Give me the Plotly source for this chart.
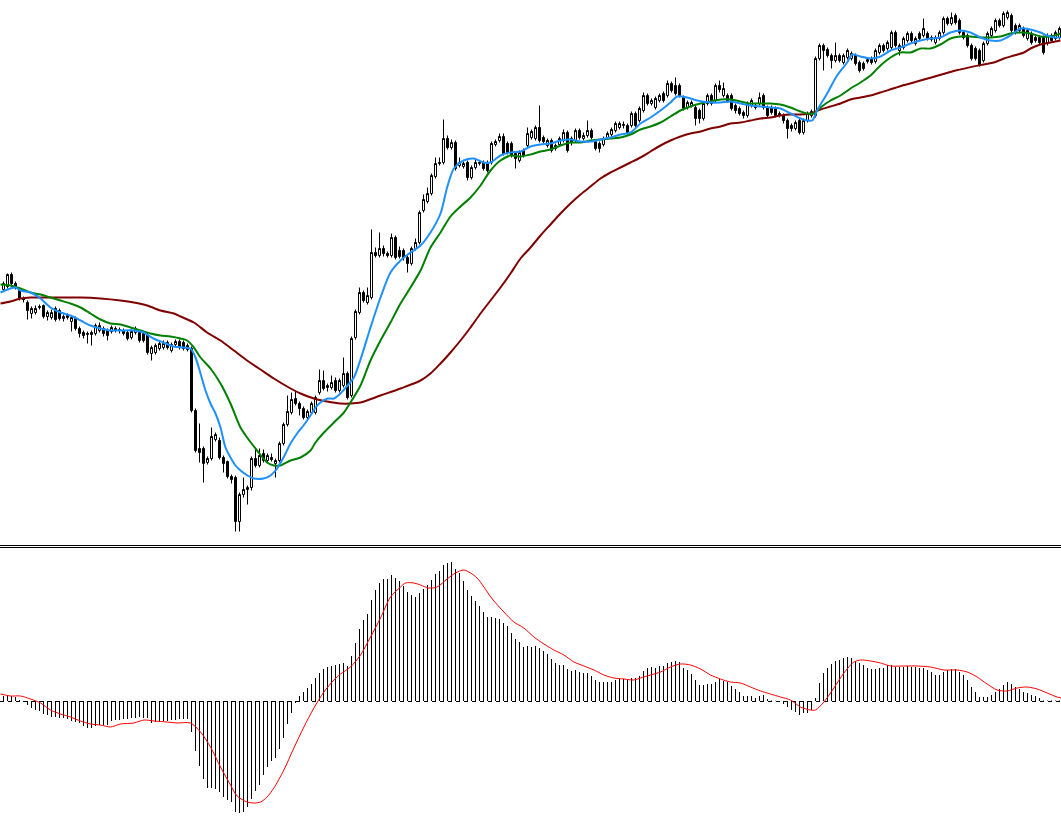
import plotly.graph_objects as go

# ---------------- price candles (bar index 0..264) ----------------
opens = [256,259,271,262,255,247,243,232,233,238, 240,229,228,237,235,227,228,224,227,217,
         213,211,211,212,215,217,215,214,217,216, 215,213,208,213,213,212,211,192,193,197,
         198,203,195,201,204,203,196,197,135,97, 97,83,87,106,105,88,84,69,68,24,
         51,56,58,87,80,92,85,88,82,85, 102,121,133,147,142,137,128,133,133,153,
         165,158,158,165,155,160,172,150,208,233, 253,243,248,293,290,297,292,290,308,295,
         295,288,282,297,303,335,344,352,369,382, 383,407,398,403,380,379,383,368,378,382,
         383,382,383,401,405,409,402,402,392,385, 395,400,408,407,418,408,400,405,397,401,
         405,413,407,405,415,407,410,415,404,402, 401,408,411,415,418,420,420,420,432,425,
         435,450,442,438,445,452,450,462,460,460, 448,438,440,438,435,427,442,450,445,460,
         450,450,450,440,437,433,430,440,440,442, 450,438,438,437,430,430,425,420,417,425,
         413,425,430,430,487,500,496,490,485,490, 483,488,487,490,483,482,484,487,484,493,
         500,497,498,513,495,498,505,512,502,512, 510,512,506,503,507,513,527,522,530,525,
         513,510,500,497,495,485,502,510,515,525, 520,528,530,520,515,517,507,512,508,508,
         508,502,510,507,508]
highs = [264,272,273,264,257,249,245,239,240,241, 241,235,236,239,237,231,232,230,229,219,
         215,214,215,222,223,219,217,220,219,218, 217,215,216,219,215,214,213,200,202,204,
         205,205,203,206,206,205,202,199,137,122, 99,89,118,113,108,90,85,71,70,53,
         68,60,89,97,97,96,92,92,87,104, 123,150,153,155,144,139,136,144,150,176,
         175,162,170,168,167,188,174,209,236,258, 255,258,316,298,313,300,294,312,310,299,
         297,290,299,307,335,351,358,372,388,388, 426,410,406,405,388,384,385,380,387,385,
         385,385,404,406,412,412,404,404,394,395, 397,418,416,420,440,410,407,407,402,409,
         416,415,409,417,417,413,425,417,406,404, 409,414,418,424,424,424,422,434,434,439,
         453,452,447,449,452,454,465,464,468,462, 450,445,445,440,437,444,452,452,462,465,
         463,452,452,442,439,435,444,447,442,453, 452,440,440,439,434,432,427,422,425,427,
         427,434,436,489,502,502,498,492,503,492, 492,497,494,492,485,484,487,489,497,502,
         502,505,515,515,502,509,514,514,509,514, 527,514,510,510,515,529,529,533,532,527,
         515,512,502,499,497,504,514,519,527,527, 534,535,532,522,522,519,517,514,510,510,
         510,512,512,515,519]
lows = [254,257,258,256,245,243,226,227,231,236, 227,225,226,224,225,224,226,214,215,208,
        207,202,200,210,213,209,205,212,213,212, 210,205,206,211,203,203,191,185,191,195,
        196,196,193,199,196,195,194,133,93,83, 63,81,85,104,86,73,67,62,14,14,
        48,41,55,78,78,83,83,84,68,83, 100,119,131,140,130,126,126,131,131,151,
        155,154,156,153,153,158,146,148,206,231, 243,241,246,288,288,289,288,288,286,287,
        285,273,280,295,301,333,342,350,367,380, 381,396,396,375,378,377,365,366,376,380,
        375,373,381,399,403,390,391,388,377,383, 388,398,406,405,403,402,398,393,395,399,
        403,393,400,403,406,405,408,406,395,393, 399,406,409,413,416,417,411,418,418,423,
        433,440,440,436,443,443,448,453,450,448, 435,436,438,420,422,425,440,440,443,453,
        448,443,435,432,430,427,428,438,436,440, 436,428,431,428,428,422,407,414,415,411,
        411,423,428,428,485,475,488,477,483,483, 481,486,485,480,473,475,482,481,482,491,
        493,495,496,498,490,496,503,503,500,505, 508,505,504,501,505,511,520,520,521,511,
        506,498,485,485,479,483,500,508,513,518, 518,526,513,511,513,508,505,501,503,501,
        491,500,503,505,506]
closes = [262,271,262,259,247,246,235,237,237,239, 229,233,233,226,227,229,230,228,217,212,
          210,212,213,220,220,212,210,218,216,215, 212,207,214,217,205,205,193,198,200,202,
          202,198,201,204,198,197,200,135,95,93, 82,87,109,111,88,82,69,66,24,51,
          56,58,87,80,90,85,90,86,85,102, 121,134,146,142,137,128,134,142,148,165,
          157,160,163,155,165,172,148,207,234,253, 245,250,293,290,297,292,290,308,288,289,
          288,282,297,303,333,346,352,370,382,383, 407,398,403,377,383,382,368,378,383,383,
          377,375,402,404,409,392,393,390,387,393, 390,412,414,418,405,404,405,395,400,407,
          413,395,403,415,408,410,415,408,397,397, 407,412,416,422,422,421,413,432,420,437,
          450,442,445,447,450,445,462,455,452,450, 437,443,443,427,427,442,450,442,460,456,
          457,445,437,435,432,430,442,445,438,448, 438,430,433,430,432,425,417,417,423,413,
          425,432,434,487,500,495,490,485,490,485, 490,495,492,482,475,477,486,483,495,500,
          495,503,513,500,500,507,512,505,507,507, 517,507,508,508,513,527,522,528,523,513,
          508,500,487,487,481,502,512,517,525,520, 532,533,515,513,520,510,515,503,505,503,
          493,510,505,513,517]

# ---------------- moving averages (read at bar positions) ----------------
fast_pos = [-0.75,1.75,3,4.25,6.75,9.25,11.75,14.25,16.75,19.25, 21.75,24.25,26.75,29.25,32.6,35,37.5,40,42.5,45,
            46.75,48,49.25,50.5,51.75,53,54.25,55.5,56.75,58, 59.25,61,62.6,65,66.75,68.4,70,71.75,73.4,75,
            76.75,78,79.25,81,82.6,84.25,86,87.6,89.25,91.75, 94.25,96.75,99.25,101.75,104.25,106.75,109.25,110.9,112.6,115,
            117.6,120,121.75,124.25,126.75,129.25,131.75,134.25,136.75,139.25, 141.75,144.25,146.75,149.25,151.75,154.25,156.75,159.25,161.75,164.25,
            166.75,168.4,170.9,173.4,176.75,179.25,181.75,184.25,186.75,189.25, 191.75,194.25,196.75,199.25,200.9,202.2,203.4,205.9,208.4,210.9,
            212.2,214.25,216.75,219.25,221.75,224.25,226.75,229.25,231.75,234.25, 236.75,239.25,241.75,244.25,246.75,249.25,251.75,254.25,256.75,259.25,
            260.9,262.6,264.25]
fast_ma = [253,257,258,255,253,247,238,233,230,225, 220,217,215,215,215,213,207,203,199,198,
           197,188,172,155,142,132,118,98,88,80, 75,70,67,67,70,77,88,102,112,120,
           130,138,143,147,147,152,160,168,186,218, 248,273,285,293,300,313,332,358,377,385,
           387,383,383,390,393,394,399,401,402,405, 406,404,404,406,408,411,413,422,428,435,
           443,449,448,445,443,443,444,442,440,439, 438,437,432,427,425,425,435,452,470,483,
           491,489,487,489,495,498,502,505,507,508, 513,515,513,508,505,505,510,517,516,513,
           510,508,508]

mid_pos = [-0.75,1.75,4.25,6.75,9.25,11.75,14.25,16.75,19.25,21.75, 24.25,26.75,29.25,31.75,34.25,36.75,39.25,41.75,44.25,45.9,
           47.6,49.25,51.75,54.25,56.75,59.25,60.9,63.4,65.9,67.6, 69.25,71.75,74.25,76.75,78,80.1,82.6,85.1,86.75,89.25,
           91.75,94.25,96.75,99.25,101.75,104.25,106.75,109.25,111.75,114.25, 116.75,119.25,121.75,124.25,126.75,129.25,131.75,134.25,136.75,139.25,
           141.75,144.25,146.75,149.25,151.75,154.25,156.75,159.25,161.75,164.25, 166.75,169.25,171.75,174.25,176.75,179.25,181.75,184.25,186.75,189.25,
           191.75,194.25,196.75,199.25,200.9,202.6,204.25,206.75,209.25,211.75, 214.25,216.75,219.25,221.75,224.25,226.75,229.25,231.75,234.25,236.75,
           239.25,241.75,244.25,246.75,249.25,251.75,254.25,256.75,259.25,261.75, 264.25]
mid_ma = [261,260,257,253,251,248,245,242,238,232, 226,222,221,218,215,212,210,209,207,205,
          198,188,177,162,142,118,108,95,83,80, 80,85,88,95,103,113,123,133,143,160,
          185,205,223,242,258,275,298,313,329,339, 348,360,375,385,390,389,391,394,396,400,
          403,403,405,406,407,408,411,416,419,423, 429,435,439,442,444,446,446,444,442,442,
          442,441,438,434,432,432,438,445,450,457, 463,470,480,488,493,493,497,497,501,507,
          509,509,508,508,509,512,513,512,509,509, 512]

slow_pos = [-0.75,1.75,4.25,6.75,9.25,14.25,19.25,24.25,29.25,32.6, 35.9,39.25,42.6,44.25,47.6,50.9,54.25,57.6,60.9,64.25,
            67.6,70.9,74.25,77.6,80.9,84.25,86.75,89.25,94.25,99.25, 104.25,106.75,109.25,111.75,114.25,116.75,119.25,121.75,124.25,126.75,
            129.25,131.75,134.25,136.75,139.25,141.75,144.25,146.75,149.25,151.75, 154.25,156.75,159.25,161.75,164.25,166.75,169.25,171.75,174.25,176.75,
            179.25,181.75,184.25,186.75,189.25,191.75,194.25,196.75,199.25,201.75, 204.25,206.75,209.25,211.75,214.25,216.75,219.25,224,232,238,
            245,247.6,250.1,252.6,255.1,256.75,259.25,261.75,264.25]
slow_ma = [242,244,247,248,248,248,248,247,245,243, 240,235,232,229,223,213,205,195,185,176,
           167,159,152,147,144,142,142,143,150,157, 165,172,182,193,205,218,232,245,258,272,
           287,298,310,321,332,342,351,359,367,373, 378,383,388,394,400,405,409,412,414,417,
           419,422,423,425,427,428,430,431,431,432, 436,439,442,446,448,450,453,459,468,475,
           481,483,487,490,493,497,501,503,505]

# ---------------- MACD histogram and signal ----------------
macd_hist = [5,5,5,4,1,-1,-4,-7,-9,-10, -13,-14,-16,-16,-17,-17,-18,-20,-21,-22,
             -25,-27,-27,-25,-24,-24,-24,-20,-19,-19, -18,-18,-17,-17,-16,-17,-17,-22,-21,-21,
             -20,-20,-19,-19,-18,-18,-18,-31,-50,-65, -78,-87,-87,-88,-91,-96,-99,-101,-111,-112,
             -111,-106,-98,-90,-84,-74,-66,-60,-57,-48, -37,-23,-12,-2,5,9,13,17,23,28,
             32,34,35,36,37,38,35,45,58,72, 81,87,101,111,118,122,122,126,123,120,
             115,109,106,104,108,112,116,121,127,130, 136,138,139,132,128,120,111,105,100,95,
             89,84,84,83,82,78,75,68,62,59, 54,55,54,55,53,50,47,42,38,36,
             36,32,30,31,29,28,28,25,21,19, 19,19,19,21,22,22,21,23,23,25,
             30,33,34,33,35,35,38,39,40,39, 33,31,27,21,16,16,17,17,19,22,
             20,19,15,12,9,5,5,5,3,5, 6,2,0.5,0.3,-0.5,-3,-6,-9,-11,-14,
             -12,-12,-9,3,18,28,33,37,40,41, 43,44,43,40,38,36,33,32,32,33,
             33,36,36,34,34,34,35,34,34,33, 33,31,29,26,26,29,31,32,32,29,
             26,21,14,9,4,4,4,6,9,12, 16,19,17,14,12,9,8,6,5,3,
             0.5,0.5,0.5,0.5,0.5]

sig_pos = [-0.75,1.75,4.25,6.75,9.25,11.75,14.25,16.75,19.25,21.75, 24.25,26.75,29.25,32.6,35.1,37.6,40.9,43.4,46.75,49.25,
           51.75,54.25,56.75,58.4,60.9,62.6,64.25,65.9,67.6,70.1, 72.6,75.1,77.6,80.1,82.6,84.25,86.75,89.25,91.75,94.25,
           96.75,99.25,100.5,102.6,104.25,106.3,108.4,110.9,113,115.1, 116.75,118.4,120.1,122.2,125.1,127.6,130.1,132.6,135.1,137.6,
           140.1,142.6,145.1,147.6,150.1,152.6,155.1,157.6,159.25,161.75, 164.25,166.75,169.25,171.75,174.25,176.75,179.25,181.75,184.25,186.75,
           189.25,191.75,194.25,196.75,199.25,201.75,203,205.1,207.6,210.1, 212.6,214.25,216.75,219.25,221.75,225.1,228.4,231.75,235.1,238.4,
           240.9,243.4,245.9,248.4,250.9,253.4,255.9,258.4,260.9,263.4, 264.5]
macd_signal = [7,5,5,2,-2,-9,-13,-16,-20,-23, -24,-26,-23,-22,-19,-20,-21,-22,-22,-31,
               -46,-66,-84,-95,-101,-102,-101,-96,-87,-69, -47,-26,-7,9,21,27,34,46,64,83,
               104,114,118,118,116,113,114,122,128,131, 128,123,114,102,89,79,73,64,57,51,
               46,39,35,31,26,23,22,21,23,26, 29,34,37,36,32,26,22,19,18,14,
               10,7,4,1,-6,-9,-9,-1,13,28, 39,41,40,38,35,35,35,34,31,31,
               29,24,17,11,10,13,14,12,8,4, 3]

W, H = 1061, 824
bars = list(range(len(closes)))
x_range = [-0.875, -0.875 + W / 4.0]

fig = go.Figure()
fig.add_trace(go.Candlestick(
    x=bars, open=opens, high=highs, low=lows, close=closes,
    increasing=dict(line=dict(color="#000000", width=1), fillcolor="#ffffff"),
    decreasing=dict(line=dict(color="#000000", width=1), fillcolor="#000000"),
    whiskerwidth=0, hoverinfo="skip", xaxis="x", yaxis="y"))

for pos, vals, col in [(slow_pos, slow_ma, "#800000"),
                       (mid_pos, mid_ma, "#008000"),
                       (fast_pos, fast_ma, "#1E90FF")]:
    fig.add_trace(go.Scatter(x=pos, y=vals, mode="lines", hoverinfo="skip",
                             line=dict(color=col, width=2, shape="spline", smoothing=0.8),
                             xaxis="x", yaxis="y"))

fig.add_trace(go.Bar(x=bars, y=macd_hist, width=0.25, hoverinfo="skip",
                     marker=dict(color="#000000", line=dict(width=0)),
                     xaxis="x2", yaxis="y2"))
fig.add_trace(go.Scatter(x=sig_pos, y=macd_signal, mode="lines", hoverinfo="skip",
                         line=dict(color="#FF0000", width=1, shape="spline", smoothing=0.8),
                         xaxis="x2", yaxis="y2"))

hidden = dict(visible=False, showgrid=False, zeroline=False, fixedrange=True)
fig.update_layout(
    width=W, height=H,
    margin=dict(l=0, r=0, t=0, b=0, pad=0),
    paper_bgcolor="#ffffff", plot_bgcolor="#ffffff",
    showlegend=False,
    boxgap=0.5, boxgroupgap=0,
    xaxis=dict(range=x_range, domain=[0, 1], anchor="y", rangeslider=dict(visible=False), **hidden),
    xaxis2=dict(range=x_range, domain=[0, 1], anchor="y2", **hidden),
    yaxis=dict(range=[2.5, 545.5], domain=[1 - 543.0 / H, 1], anchor="x", **hidden),
    yaxis2=dict(range=[-123, 153], domain=[0, 1 - 548.0 / H], anchor="x2", **hidden),
    shapes=[
        dict(type="line", xref="paper", yref="paper", x0=0, x1=1,
             y0=1 - 545.5 / H, y1=1 - 545.5 / H, line=dict(color="#000000", width=1)),
        dict(type="line", xref="paper", yref="paper", x0=0, x1=1,
             y0=1 - 547.5 / H, y1=1 - 547.5 / H, line=dict(color="#000000", width=1)),
        dict(type="line", xref="x2", yref="y2", x0=x_range[0], x1=x_range[1],
             y0=-0.5, y1=-0.5, layer="below",
             line=dict(color="#000000", width=1, dash="4px,4px")),
    ],
)

fig.write_html("out.html",
               config={"displayModeBar": False, "staticPlot": True},
               post_script="document.body.style.margin='0px';"
                           "document.body.style.padding='0px';"
                           "document.body.style.overflow='hidden';")
